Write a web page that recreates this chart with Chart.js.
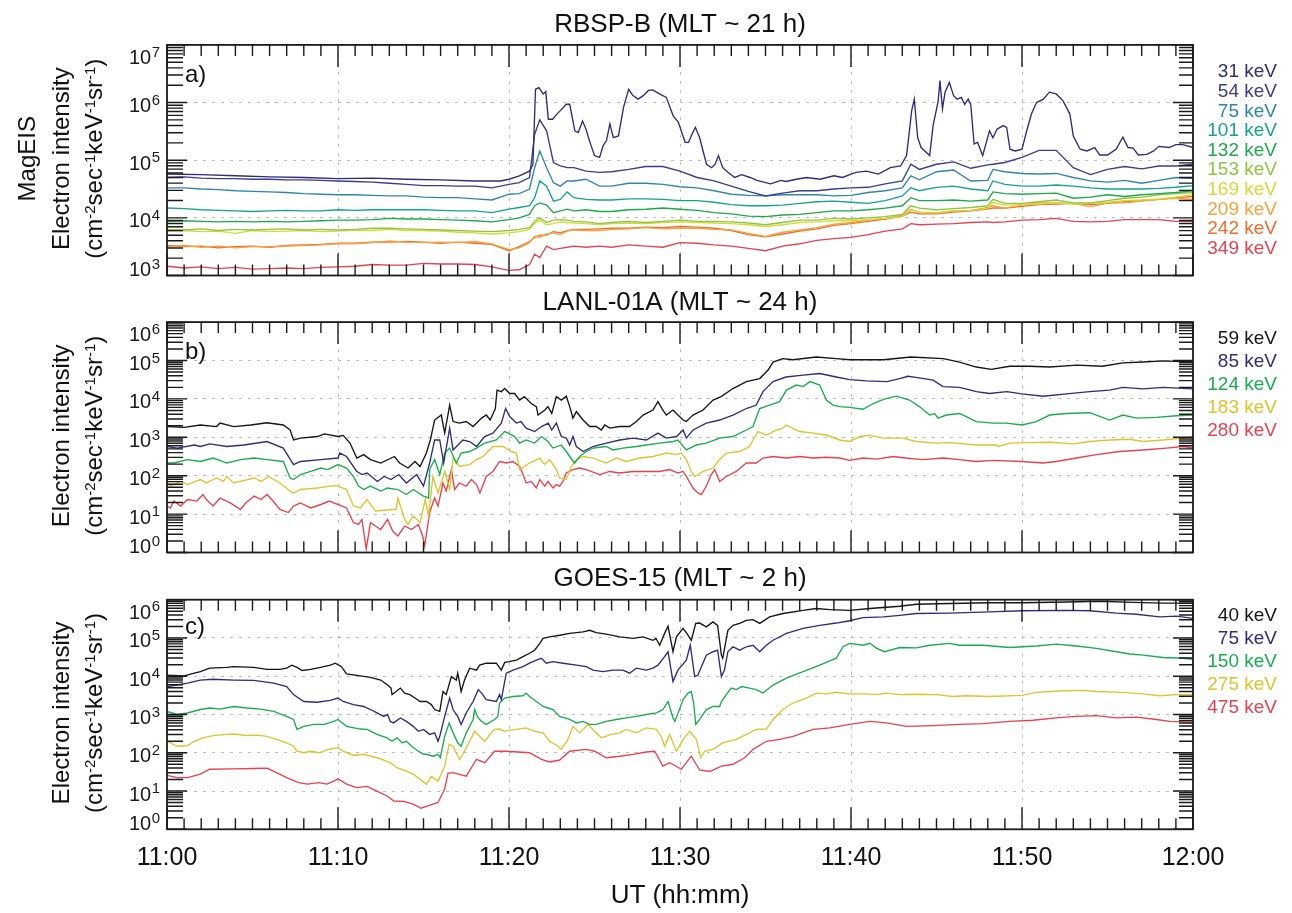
<!DOCTYPE html>
<html lang="en">
<head>
<meta charset="UTF-8">
<title>Electron intensity - RBSP-B, LANL-01A, GOES-15</title>
<script src="https://cdn.jsdelivr.net/npm/chart.js"></script>
<style>
  body { margin: 0; background: #fff; }
  #wrap { position: relative; width: 1292px; height: 913px; }
  #wrap canvas { position: absolute; left: 0; top: 0; }
</style>
</head>
<body>
<div id="wrap">
  <canvas id="panelA" width="1292" height="913"></canvas>
  <canvas id="panelB" width="1292" height="913"></canvas>
  <canvas id="panelC" width="1292" height="913"></canvas>
</div>
<script>
const FONT = "'Liberation Sans', Arial, Helvetica, sans-serif";
Chart.defaults.font.family = FONT;
Chart.defaults.color = '#111';

// x axis: minutes after 11:00 UT
const timeLabels = ['11:00', '11:10', '11:20', '11:30', '11:40', '11:50', '12:00'];

// values are log10 of electron intensity (cm^-2 s^-1 keV^-1 sr^-1)

// ---- a) RBSP-B MagEIS ----
const rbspLabels = ['31 keV', '54 keV', '75 keV', '101 keV', '132 keV', '153 keV', '169 keV', '209 keV', '242 keV', '349 keV'];
const rbspColors = ['#2f2b7c', '#3b3b92', '#2f86ad', '#13a58a', '#1ea84a', '#8dc63f', '#d6da34', '#f5a33a', '#ef6b2a', '#e8404f'];

const rbspTime = [0,1,2,3,4,5,6,7,8,9,10,11,12,13,14,15,16,17,18,19,
  20,20.6,21.2,21.5,21.8,22.2,22.6,23,23.4,23.8,
  24.5,25.3,26,27,28,29,30,31,32,33,34,35,36,37,38,39,40,41,42,43,
  43.5,44,45,46,47,48,48.3,49,50,51,52,53,54,55,56,57,58,59,60];

const rbsp31 = [[0,4.76],[2,4.75],[4,4.73],[6,4.71],[8,4.70],[10,4.68],[12,4.69],[14,4.67],[16,4.66],[18,4.64],[19.5,4.64],
  [20,4.67],[20.6,4.73],[21.2,4.81],[21.4,4.93],[21.55,6.23],[21.75,6.26],[22,6.15],[22.15,6.19],[22.3,5.71],[22.55,5.71],
  [22.8,5.80],[23,5.86],[23.35,5.97],[23.55,5.97],[23.85,5.51],[24.05,5.48],[24.3,5.68],[24.5,5.54],[24.7,5.34],[25,5.08],
  [25.3,5.05],[25.5,5.25],[25.7,5.34],[25.9,5.63],[26.1,5.39],[26.4,5.42],[26.7,5.92],[27,6.23],[27.25,6.12],[27.55,6.06],
  [27.85,6.12],[28.15,6.21],[28.4,6.22],[28.8,6.15],[29.2,6.09],[29.6,5.77],[29.9,5.66],[30.3,5.31],[30.5,5.31],[30.7,5.45],
  [30.9,5.57],[31.15,5.39],[31.55,4.93],[31.85,4.87],[32.05,4.93],[32.25,5.08],[32.5,4.87],[32.8,4.79],[33.2,4.70],[33.6,4.75],
  [34.1,4.70],[34.5,4.65],[35.3,4.59],[35.9,4.65],[36.2,4.63],[36.8,4.67],[37.4,4.70],[38.2,4.67],[39,4.73],[39.5,4.70],
  [40,4.76],[40.3,4.79],[40.9,4.81],[41.6,4.76],[42.3,4.87],[42.9,4.90],[43.25,5.08],[43.55,5.86],[43.7,6.06],[43.9,5.39],
  [44.1,5.22],[44.6,5.08],[44.8,5.60],[45.1,6.03],[45.2,6.38],[45.35,5.89],[45.5,6.18],[45.75,6.35],[46,6.12],[46.2,6.06],
  [46.45,6.09],[46.65,5.97],[46.85,6.06],[47,5.97],[47.2,5.28],[47.4,5.31],[47.7,5.08],[48.1,5.51],[48.3,5.39],[48.55,5.54],
  [48.9,5.60],[49.1,5.57],[49.3,5.19],[49.6,5.16],[50,5.19],[50.25,5.48],[50.55,5.80],[50.85,6.00],[51.25,6.06],[51.6,6.18],
  [52,6.15],[52.4,6.03],[52.8,5.80],[53,5.42],[53.4,5.19],[53.8,5.16],[54.25,5.22],[54.55,5.09],[55,5.09],[55.5,5.19],
  [55.9,5.40],[56.2,5.22],[56.5,5.21],[56.8,5.09],[57.3,5.10],[57.7,5.16],[58,5.24],[58.6,5.22],[59,5.27],[59.4,5.27],[60,5.22]];

const rbsp54 = [4.70,4.71,4.69,4.68,4.68,4.67,4.67,4.66,4.66,4.65,4.64,4.63,4.62,4.60,4.58,4.56,4.56,4.55,4.55,4.52,
  4.58,4.61,4.70,5.45,5.70,5.51,4.96,4.90,4.87,4.87,
  4.81,4.79,4.80,4.84,4.89,4.89,4.81,4.70,4.64,4.55,4.46,4.38,4.43,4.47,4.47,4.50,4.52,4.53,4.59,4.64,
  4.93,4.84,4.93,4.97,4.86,4.92,4.93,4.96,5.05,5.17,5.17,4.87,4.75,4.84,4.89,4.85,4.90,4.90,4.93];
const rbsp75 = [4.52,4.52,4.50,4.49,4.47,4.46,4.45,4.44,4.42,4.41,4.40,4.40,4.39,4.38,4.38,4.36,4.35,4.35,4.33,4.31,
  4.41,4.42,4.50,4.87,5.16,4.87,4.61,4.55,4.64,4.64,
  4.67,4.55,4.55,4.60,4.60,4.58,4.54,4.52,4.47,4.41,4.39,4.38,4.40,4.40,4.40,4.38,4.39,4.44,4.47,4.52,
  4.73,4.66,4.80,4.83,4.64,4.65,4.84,4.80,4.77,4.76,4.77,4.70,4.64,4.62,4.65,4.60,4.65,4.70,4.68];
const rbsp101 = [4.17,4.16,4.14,4.13,4.12,4.11,4.12,4.13,4.12,4.12,4.14,4.13,4.14,4.14,4.14,4.14,4.13,4.12,4.12,4.09,
  4.15,4.18,4.21,4.35,4.64,4.55,4.29,4.32,4.45,4.35,
  4.32,4.31,4.31,4.33,4.33,4.32,4.30,4.30,4.27,4.23,4.21,4.21,4.22,4.25,4.28,4.29,4.27,4.25,4.30,4.38,
  4.52,4.47,4.53,4.55,4.50,4.47,4.64,4.58,4.55,4.55,4.57,4.55,4.52,4.50,4.50,4.50,4.51,4.53,4.56];
const rbsp132 = [3.94,3.95,3.94,3.93,3.94,3.93,3.94,3.93,3.94,3.95,3.96,3.96,3.97,3.99,3.98,3.98,3.97,3.96,3.95,3.93,
  3.97,4.00,4.06,4.21,4.26,4.22,4.09,4.12,4.15,4.12,
  4.14,4.11,4.11,4.14,4.15,4.17,4.15,4.13,4.09,4.07,4.03,4.02,4.05,4.06,4.09,4.12,4.12,4.14,4.17,4.21,
  4.35,4.30,4.30,4.31,4.29,4.31,4.45,4.42,4.41,4.42,4.43,4.34,4.36,4.40,4.37,4.40,4.42,4.44,4.47];
const rbsp153 = [3.80,3.79,3.81,3.78,3.80,3.79,3.80,3.81,3.79,3.80,3.79,3.80,3.82,3.82,3.81,3.80,3.79,3.78,3.77,3.76,
  3.78,3.80,3.83,3.94,4.00,3.92,3.96,3.97,3.96,3.94,
  3.93,3.90,3.92,3.94,3.92,3.94,3.96,3.94,3.94,3.93,3.91,3.88,3.92,3.96,3.96,3.99,3.98,4.00,4.02,4.06,
  4.21,4.17,4.14,4.16,4.18,4.21,4.32,4.25,4.25,4.28,4.31,4.26,4.26,4.30,4.34,4.36,4.40,4.42,4.44];
const rbsp169 = [3.77,3.78,3.76,3.77,3.73,3.78,3.76,3.77,3.78,3.76,3.77,3.79,3.78,3.80,3.78,3.78,3.77,3.75,3.74,3.72,
  3.74,3.76,3.80,3.90,3.96,3.88,3.90,3.93,3.92,3.91,
  3.90,3.88,3.90,3.91,3.90,3.92,3.93,3.92,3.91,3.90,3.88,3.85,3.88,3.92,3.93,3.95,3.95,3.97,3.99,4.02,
  4.14,4.10,4.09,4.12,4.13,4.16,4.27,4.22,4.23,4.24,4.26,4.24,4.25,4.27,4.30,4.31,4.33,4.36,4.40];
const rbsp209 = [3.50,3.52,3.49,3.51,3.48,3.50,3.50,3.51,3.52,3.53,3.55,3.55,3.57,3.60,3.58,3.57,3.58,3.57,3.59,3.55,
  3.45,3.48,3.57,3.68,3.66,3.72,3.74,3.71,3.77,3.79,
  3.78,3.78,3.80,3.81,3.83,3.81,3.82,3.82,3.80,3.79,3.73,3.68,3.75,3.79,3.83,3.89,3.92,3.96,3.99,4.05,
  4.15,4.09,4.08,4.12,4.13,4.18,4.21,4.17,4.22,4.26,4.26,4.25,4.19,4.26,4.26,4.29,4.32,4.34,4.32];
const rbsp242 = [3.52,3.50,3.51,3.48,3.50,3.51,3.49,3.52,3.53,3.54,3.56,3.56,3.58,3.58,3.59,3.58,3.56,3.58,3.56,3.54,
  3.43,3.50,3.59,3.66,3.70,3.70,3.76,3.74,3.78,3.80,
  3.80,3.81,3.82,3.82,3.84,3.83,3.85,3.84,3.82,3.78,3.71,3.67,3.72,3.77,3.81,3.87,3.90,3.94,3.98,4.03,
  4.10,4.07,4.07,4.10,4.12,4.15,4.17,4.17,4.20,4.23,4.24,4.25,4.23,4.25,4.28,4.30,4.32,4.35,4.37];
const rbsp349 = [3.16,3.13,3.15,3.12,3.14,3.11,3.12,3.13,3.12,3.14,3.15,3.16,3.19,3.18,3.18,3.21,3.20,3.20,3.19,3.15,
  3.09,3.10,3.19,3.37,3.31,3.51,3.45,3.47,3.49,3.51,
  3.49,3.51,3.49,3.53,3.51,3.49,3.57,3.56,3.53,3.51,3.47,3.43,3.51,3.55,3.61,3.64,3.66,3.71,3.77,3.81,
  3.90,3.88,3.89,3.90,3.92,3.93,3.92,3.93,3.96,3.97,3.99,3.94,3.93,3.94,3.97,3.97,3.97,3.94,3.94];

// ---- b) LANL-01A ----
const lanlLabels = ['59 keV', '85 keV', '124 keV', '183 keV', '280 keV'];
const lanlColors = ['#151515', '#2e2c7e', '#17ad4d', '#dcc52a', '#e8404e'];

const lanl59 = [[0,3.28],[1,3.26],[1.95,3.32],[2.9,3.28],[3.1,3.37],[3.9,3.28],[4.9,3.32],[5.85,3.38],[6.8,3.32],[7.2,3.19],
  [7.4,2.93],[7.8,2.98],[8.8,3.02],[9.2,3.09],[10,3.02],[10.3,3.05],[10.7,2.85],[11.1,2.46],[11.5,2.55],[11.9,2.42],
  [12.5,2.33],[13.3,2.50],[13.6,2.33],[14.1,2.20],[14.5,2.37],[14.8,2.24],[15.17,2.59],[15.4,2.93],[15.65,3.45],[16.04,3.58],
  [16.24,3.11],[16.53,3.84],[16.73,3.41],[17.1,3.37],[17.5,3.41],[17.9,3.28],[18.4,3.50],[18.67,3.58],[18.9,3.45],[19.2,3.75],
  [19.3,4.23],[19.55,4.19],[19.75,4.27],[20.04,4.14],[20.33,4.14],[20.62,3.97],[20.9,4.06],[21.3,3.88],[21.6,3.80],[21.7,3.58],
  [22.1,3.71],[22.28,3.80],[22.5,3.62],[22.77,4.06],[23.06,3.97],[23.35,4.07],[23.55,3.80],[23.74,3.50],[23.94,3.67],[24.33,3.45],
  [24.72,3.28],[25.1,3.28],[25.4,3.19],[25.6,3.32],[25.89,3.24],[26.47,3.28],[27.05,3.28],[27.45,3.41],[27.84,3.58],[28.42,3.71],
  [28.71,3.93],[29,3.71],[29.2,3.58],[29.59,3.71],[29.88,3.58],[30.18,3.45],[30.37,3.41],[30.76,3.58],[31.35,3.71],[31.93,3.97],
  [32.4,4.06],[33.1,4.27],[33.88,4.45],[34.66,4.53],[35.15,4.75],[35.44,4.96],[36,5.05],[36.6,5.02],[37.97,5.09],[39.14,5.05],
  [39.92,5.02],[41.9,5.02],[43.5,5.09],[45.4,5.05],[46.35,4.96],[47.33,4.83],[48.2,4.77],[49.28,4.85],[50.45,4.85],[51.62,4.83],
  [53.2,4.88],[54.7,4.85],[55.9,4.94],[57.08,4.96],[58.25,4.99],[60,4.96]];
const lanl85 = [[0,2.76],[0.6,2.72],[1.6,2.80],[1.95,2.76],[2.5,2.83],[3.5,2.76],[4.5,2.80],[5.85,2.89],[6.8,2.72],[7.4,2.29],
  [7.8,2.37],[9,2.42],[10,2.46],[10.1,2.59],[10.5,2.50],[11.1,2.11],[11.4,2.03],[11.7,2.07],[12.3,1.85],[12.7,1.98],
  [13.1,1.90],[13.55,2.03],[14,1.81],[14.6,2.03],[15,1.73],[15.36,2.33],[15.65,2.93],[15.95,2.93],[16.18,2.33],[16.53,3.24],
  [16.73,2.67],[17.3,2.93],[17.7,2.89],[18.1,2.76],[18.58,3.02],[19.06,3.11],[19.55,3.37],[19.8,3.75],[20.04,3.54],[20.43,3.37],
  [20.7,3.41],[21,3.24],[21.5,3.15],[21.9,3.28],[22.3,3.37],[22.5,3.19],[22.77,3.37],[23.06,3.02],[23.35,2.98],[23.55,2.80],
  [23.74,3.02],[23.94,2.76],[24.33,2.63],[24.9,2.76],[25.7,2.85],[26.47,2.93],[27.25,2.98],[28.03,2.93],[28.71,3.11],[29.2,2.98],
  [29.8,3.02],[30.18,3.19],[30.37,2.98],[30.76,3.19],[31.54,3.37],[32.32,3.45],[33.1,3.58],[33.88,3.75],[34.46,3.84],[34.85,4.19],
  [35.44,4.45],[36.2,4.57],[37.2,4.62],[38.17,4.66],[39.14,4.57],[39.92,4.50],[40.9,4.47],[42.1,4.45],[42.85,4.53],[43.33,4.59],
  [43.8,4.56],[44.8,4.49],[45.38,4.32],[46.35,4.30],[47.33,4.19],[48.1,4.14],[49.1,4.19],[50,4.13],[51.23,4.07],[52.6,4.13],
  [53.96,4.19],[55.13,4.23],[55.9,4.30],[57.08,4.26],[58.25,4.30],[60,4.26]];
const lanl124 = [[0,2.33],[0.4,2.33],[1.2,2.42],[1.95,2.37],[2.7,2.46],[3.5,2.33],[4.3,2.42],[5.1,2.46],[5.85,2.42],[6.8,2.37],
  [7.2,1.94],[7.4,1.90],[7.8,2.03],[8.4,2.11],[9,2.20],[9.4,2.16],[10,2.29],[10.5,2.20],[10.9,1.98],[11.2,1.73],
  [11.5,1.64],[11.9,1.73],[12.5,1.60],[12.9,1.68],[13.5,1.64],[14,1.51],[14.4,1.64],[15,1.47],[15.3,1.42],[15.36,2.16],
  [15.65,2.42],[15.95,2.03],[16.24,2.59],[16.53,2.72],[16.92,2.33],[17.2,2.59],[17.7,2.63],[18.1,2.72],[18.58,2.85],[19.26,2.93],
  [19.75,3.15],[19.95,3.11],[20.33,3.02],[20.62,2.85],[21,2.93],[21.5,2.85],[21.9,3.02],[22.28,2.89],[22.57,2.72],[23.06,2.80],
  [23.35,2.63],[23.55,2.50],[23.84,2.33],[24.13,2.50],[24.52,2.63],[24.91,2.72],[25.69,2.76],[26.08,2.67],[26.66,2.72],[27.45,2.76],
  [28.03,2.80],[28.81,2.85],[29.59,2.89],[29.88,2.93],[30.37,2.67],[30.96,2.80],[31.54,2.85],[32.32,2.98],[33.1,3.02],[33.88,3.19],
  [34.27,3.28],[34.66,3.75],[35.24,3.84],[35.83,3.93],[36.22,4.23],[36.8,4.36],[37.2,4.32],[37.6,4.45],[38.17,4.36],[38.56,3.97],
  [38.95,3.84],[39.34,3.80],[39.92,3.78],[40.7,3.73],[41.3,3.88],[41.9,3.99],[42.65,4.07],[43.43,3.97],[44,3.80],[44.6,3.58],
  [44.9,3.62],[45.09,3.50],[45.57,3.58],[46.35,3.62],[46.74,3.54],[47.33,3.41],[48.3,3.37],[49.08,3.37],[50,3.32],[50.84,3.41],
  [51.62,3.58],[52.6,3.62],[53.96,3.64],[55.13,3.45],[55.9,3.58],[56.69,3.50],[57.86,3.52],[59.03,3.56],[60,3.58]];
const lanl183 = [[0,1.81],[0.2,1.73],[0.8,1.85],[1.2,1.77],[1.95,1.90],[2.3,1.81],[2.9,1.94],[3.3,1.85],[3.5,1.98],[3.9,1.81],
  [4.7,1.90],[5.1,1.94],[5.5,1.85],[5.95,1.98],[6.6,1.81],[7.2,1.60],[7.4,1.55],[7.8,1.64],[8.8,1.68],[9.75,1.74],
  [10,1.73],[10.5,1.64],[10.9,1.21],[11.3,1.16],[11.7,1.38],[12.2,1.08],[13.2,1.12],[13.4,1.12],[13.5,1.42],[13.9,0.86],
  [14.1,0.73],[14.4,0.95],[14.8,0.78],[15.1,1.38],[15.3,0.95],[15.55,1.98],[15.85,1.55],[16.24,2.11],[16.53,1.64],[16.73,2.46],
  [17.1,2.24],[17.7,2.29],[18.1,2.42],[18.48,2.50],[19.06,2.76],[19.65,2.76],[20.14,2.63],[20.43,2.59],[20.62,2.16],[21.2,2.33],
  [21.8,2.46],[22.08,2.29],[22.38,2.42],[22.77,2.16],[22.96,1.94],[23.35,1.90],[23.65,2.24],[23.94,2.42],[24.33,2.50],[24.91,2.46],
  [25.69,2.33],[26.28,2.46],[26.86,2.37],[27.64,2.46],[28.42,2.50],[29.2,2.59],[29.78,2.55],[30.08,2.59],[30.37,2.42],[30.66,2.11],
  [30.86,1.98],[31.35,2.11],[31.93,2.20],[32.32,2.42],[32.71,2.59],[33.49,2.63],[34.07,2.76],[34.27,2.93],[34.56,3.15],[35.05,3.06],
  [35.64,3.19],[36.02,3.24],[36.2,3.32],[37,3.15],[37.78,3.11],[38.56,3.06],[39.34,2.93],[39.92,2.89],[40.5,3.02],[41.1,3.05],
  [41.9,2.98],[43.04,2.98],[43.8,2.89],[44.99,2.85],[45.77,2.86],[47.33,2.80],[48.5,2.80],[48.6,2.76],[49.3,2.85],[50.45,2.86],
  [51.62,2.87],[52.98,2.83],[53.96,2.89],[55.13,2.93],[56.3,2.95],[57.08,2.89],[58.25,2.93],[59.42,2.98],[60,3.02]];
const lanl280 = [[0,1.21],[0.2,1.16],[0.4,1.34],[0.8,1.21],[1.2,1.38],[1.75,1.34],[2.1,1.51],[2.3,1.38],[2.7,1.21],[3.1,1.42],
  [3.7,1.29],[4.3,1.12],[4.6,1.29],[5.1,1.47],[5.5,1.38],[5.85,1.51],[6.2,1.34],[6.6,1.12],[7.1,1.04],[7.4,1.21],
  [7.8,1.29],[8.4,1.16],[9,1.25],[9.5,1.34],[9.75,1.29],[10,1.25],[10.5,1.16],[10.9,0.78],[11.2,0.73],[11.4,0.86],
  [11.65,0.09],[11.9,0.78],[12.5,0.60],[12.9,0.86],[13.2,0.56],[13.5,0.43],[13.9,0.69],[14.3,0.60],[14.7,0.73],[14.95,0.43],
  [15.07,0.17],[15.36,1.04],[15.65,1.42],[15.85,1.21],[16.14,1.81],[16.33,1.60],[16.63,2.16],[16.82,1.64],[17.1,1.81],[17.5,1.73],
  [17.8,1.90],[18.1,1.77],[18.3,1.55],[18.67,1.98],[19.06,2.11],[19.45,2.37],[19.84,2.33],[20.23,2.37],[20.62,2.24],[20.82,2.03],
  [21,1.81],[21.3,1.85],[21.6,1.68],[21.8,1.90],[22.1,1.73],[22.28,1.85],[22.57,1.68],[22.77,1.77],[22.96,1.73],[23.16,1.85],
  [23.35,2.07],[23.74,2.16],[24.13,2.20],[24.52,2.16],[25.3,2.03],[25.89,2.11],[26.47,2.07],[27.25,2.11],[28.03,2.11],[28.81,2.11],
  [29.39,2.16],[29.88,2.07],[30.18,2.11],[30.37,1.98],[30.76,1.68],[31.05,1.55],[31.25,1.51],[31.54,1.73],[31.83,2.03],[32.03,2.16],
  [32.32,1.85],[32.71,1.98],[33.29,2.11],[33.88,2.33],[34.46,2.33],[34.85,2.46],[35.44,2.50],[36.22,2.46],[37,2.50],[37.78,2.46],
  [38.56,2.48],[39.34,2.46],[39.92,2.40],[40.7,2.46],[41.5,2.43],[42.46,2.50],[43.2,2.46],[44.2,2.42],[45.4,2.46],[46.35,2.42],
  [47.3,2.37],[48.3,2.40],[50,2.37],[51.23,2.33],[52,2.37],[53.18,2.46],[54.35,2.55],[55.7,2.63],[57.08,2.67],[58.44,2.72],
  [59.42,2.76],[60,2.72]];

// ---- c) GOES-15 ----
const goesLabels = ['40 keV', '75 keV', '150 keV', '275 keV', '475 keV'];
const goesColors = ['#151515', '#2e2c7e', '#17ad4d', '#dcc52a', '#e8404e'];

const goes40 = [[0,4.03],[1,4.01],[1.6,4.08],[1.95,4.12],[2.5,4.21],[3.5,4.23],[3.9,4.25],[5.07,4.23],[5.85,4.18],[6.6,4.18],
  [7,4.21],[7.3,4.29],[7.6,4.23],[7.9,4.15],[8.4,4.18],[8.97,4.23],[9.55,4.29],[9.84,4.34],[10.2,4.25],[10.5,4.06],
  [11.3,4.01],[11.9,3.97],[12.5,3.90],[12.9,3.77],[13.1,3.69],[13.16,3.52],[13.4,3.60],[13.65,3.69],[13.9,3.56],[14.2,3.52],
  [14.5,3.43],[14.8,3.34],[15.17,3.34],[15.46,3.26],[15.65,3.13],[15.95,3.08],[16.14,3.60],[16.33,3.52],[16.63,3.99],[16.92,3.90],
  [17,4.08],[17.1,3.86],[17.2,3.60],[17.4,3.90],[17.7,4.21],[18.1,4.16],[18.28,4.29],[18.67,4.34],[19.26,4.34],[19.55,4.16],
  [19.75,4.36],[20,4.38],[20.43,4.42],[20.82,4.51],[21.2,4.60],[21.5,4.68],[21.8,4.86],[21.99,4.99],[22.38,5.03],[22.96,5.07],
  [23.55,5.12],[24.33,5.16],[24.72,5.20],[25.1,5.14],[25.69,5.10],[26.47,5.03],[27.25,4.99],[27.84,5.03],[28.42,4.94],[28.6,4.99],
  [28.81,4.81],[29.1,5.12],[29.3,5.31],[29.59,4.64],[29.79,5.03],[30.18,5.25],[30.4,5.12],[30.66,4.94],[30.92,5.38],[31.15,5.39],
  [31.54,5.29],[31.93,5.42],[32.2,5.33],[32.42,4.55],[32.5,4.47],[32.8,5.20],[33.1,5.33],[33.49,5.38],[33.88,5.46],[34.27,5.48],
  [34.66,5.38],[35.24,5.55],[36.02,5.64],[37.2,5.72],[37.97,5.77],[38.76,5.74],[39.92,5.72],[41.1,5.77],[42.85,5.83],[43.82,5.88],
  [45.77,5.90],[48.1,5.92],[50,5.92],[52.6,5.94],[54.54,5.96],[56.49,5.93],[58.25,5.91],[60,5.91]];
const goes75 = [[0,3.73],[0.6,3.77],[1.2,3.82],[1.95,3.90],[2.7,3.92],[3.9,3.90],[5.07,3.89],[6.24,3.82],[7,3.73],[7.4,3.52],
  [8,3.34],[8.77,3.32],[9.55,3.37],[10,3.43],[10.3,3.34],[10.9,3.26],[11.5,3.21],[11.9,3.13],[12.28,3.04],[12.67,2.95],
  [12.9,3.00],[13.06,2.82],[13.25,2.78],[13.65,2.91],[14,2.82],[14.4,2.69],[14.7,2.56],[15,2.61],[15.36,2.48],[15.65,2.52],
  [15.85,2.30],[15.95,2.43],[16.24,2.95],[16.53,3.43],[16.73,3.13],[17,2.95],[17.2,2.74],[17.5,3.04],[17.9,3.34],[18.2,3.65],
  [18.4,3.56],[18.67,3.39],[19.26,3.34],[19.45,3.52],[19.55,3.39],[19.84,4.08],[20.23,4.16],[20.82,4.25],[21.2,4.34],[21.6,4.42],
  [21.9,4.47],[22.18,4.34],[22.57,4.38],[23.16,4.34],[23.94,4.29],[24.52,4.25],[24.91,4.16],[25.5,4.12],[26.08,4.16],[26.67,4.16],
  [27.05,4.08],[27.45,4.21],[28.03,4.16],[28.42,4.21],[28.71,4.29],[29.1,4.51],[29.3,4.64],[29.59,3.86],[29.88,4.16],[30.37,4.42],
  [30.6,4.81],[30.86,3.99],[31.05,4.03],[31.25,4.25],[31.54,4.55],[31.93,4.64],[32.2,4.68],[32.42,3.99],[32.6,4.16],[32.8,4.64],
  [33.1,4.77],[33.49,4.68],[33.88,4.77],[34.27,4.81],[34.66,4.64],[35.05,4.81],[35.44,4.94],[36.22,5.12],[37.2,5.25],[38.17,5.33],
  [39.14,5.39],[39.92,5.45],[40.7,5.53],[41.9,5.55],[42.85,5.59],[43.82,5.64],[45.77,5.65],[48.1,5.68],[50,5.71],[52.6,5.72],
  [53.96,5.71],[55.52,5.65],[56.69,5.62],[58.05,5.55],[59.03,5.57],[60,5.51]];
const goes150 = [[0,3.08],[0.6,3.00],[1.2,3.04],[1.95,3.13],[2.5,3.17],[3.1,3.14],[3.9,3.21],[4.7,3.17],[5.46,3.14],[6.24,3.08],
  [7,2.95],[7.4,2.87],[7.6,2.61],[8,2.69],[8.58,2.74],[9.2,2.74],[9.75,2.82],[10,2.87],[10.5,2.69],[11.3,2.62],
  [11.7,2.61],[12.28,2.48],[12.87,2.39],[13.16,2.30],[13.45,2.39],[13.74,2.26],[14,2.30],[14.3,2.17],[14.7,2.04],[15,1.96],
  [15.17,1.96],[15.56,1.91],[15.85,1.96],[15.98,1.87],[16.24,2.43],[16.5,2.78],[16.73,2.52],[17,2.26],[17.2,2.17],[17.5,2.52],
  [17.9,2.87],[17.99,3.13],[18.2,2.91],[18.4,2.82],[18.67,2.74],[19.16,2.87],[19.35,2.95],[19.45,3.30],[19.75,3.43],[20.23,3.47],
  [20.82,3.49],[21,3.56],[21.2,3.47],[21.6,3.34],[21.99,3.21],[22.28,3.17],[22.57,3.13],[22.96,2.95],[23.55,2.87],[23.94,2.78],
  [24.33,2.82],[24.72,2.74],[25.1,2.74],[25.69,2.82],[26.28,2.87],[26.86,2.91],[27.45,2.95],[28.03,3.00],[28.62,3.04],[29,3.13],
  [29.3,3.34],[29.59,2.91],[29.7,2.82],[30.18,3.39],[30.47,3.56],[30.66,3.60],[30.8,3.30],[30.92,2.74],[31.15,2.87],[31.54,3.13],
  [31.93,3.21],[32.32,3.21],[32.42,3.34],[32.71,3.52],[33,3.69],[33.3,3.65],[33.6,3.73],[34.07,3.69],[34.46,3.65],[34.85,3.56],
  [35.44,3.77],[36.22,3.95],[37.2,4.12],[38.17,4.29],[39.14,4.47],[39.53,4.77],[39.92,4.86],[40.7,4.81],[41.1,4.86],[41.5,4.73],
  [41.97,4.64],[42.85,4.75],[43.82,4.74],[44.6,4.81],[45.77,4.86],[46.35,4.81],[47.72,4.81],[49.28,4.75],[50.84,4.79],[52,4.84],
  [53.18,4.79],[54.35,4.73],[55.52,4.64],[56.3,4.58],[57.08,4.55],[58.25,4.49],[59.42,4.47],[60,4.44]];
const goes275 = [[0,2.30],[0.6,2.17],[1.2,2.19],[1.6,2.30],[2.1,2.39],[2.7,2.45],[3.5,2.48],[3.9,2.49],[4.7,2.45],[5.26,2.46],
  [5.85,2.43],[6.4,2.35],[7,2.26],[7.4,2.17],[7.6,2.04],[8,2.00],[8.4,2.04],[8.87,2.00],[9.45,2.09],[10,2.13],
  [10.3,2.04],[10.9,1.93],[11.5,1.96],[12.28,1.87],[13.06,1.74],[13.45,1.61],[14,1.52],[14.4,1.44],[14.8,1.31],[15.17,1.18],
  [15.46,1.39],[15.85,1.26],[16.24,1.65],[16.5,2.22],[16.73,2.17],[17.1,1.83],[17.3,1.96],[17.99,2.56],[18.28,2.43],[18.58,2.30],
  [18.96,2.52],[19.16,2.61],[19.45,2.62],[19.75,2.56],[20.04,2.59],[20.43,2.61],[21,2.65],[21.5,2.56],[21.99,2.52],[22.38,2.30],
  [22.87,2.17],[23.06,2.09],[23.45,2.35],[23.74,2.69],[24.13,2.52],[24.62,2.74],[25,2.56],[25.4,2.39],[25.98,2.48],[26.47,2.52],
  [26.86,2.61],[27.45,2.52],[28.03,2.65],[28.62,2.61],[28.9,2.43],[29.1,2.17],[29.4,2.48],[29.79,2.04],[30.18,2.35],[30.57,2.56],
  [30.96,2.35],[31.2,1.87],[31.44,2.04],[31.93,2.09],[32.5,2.26],[33.29,2.35],[34.07,2.52],[34.46,2.61],[35.05,2.62],[35.44,2.87],
  [36.02,3.13],[36.6,3.30],[37.39,3.43],[37.97,3.56],[38.56,3.54],[39.14,3.58],[39.92,3.54],[40.7,3.54],[41.5,3.52],[42.07,3.56],
  [42.85,3.52],[43.82,3.53],[44.99,3.52],[45.96,3.47],[46.74,3.49],[48.1,3.47],[50,3.50],[50.84,3.58],[52.4,3.62],[53.57,3.63],
  [54.35,3.60],[55.9,3.58],[57.08,3.54],[58.05,3.49],[59.03,3.52],[60,3.52]];
const goes475 = [[0,1.41],[0.6,1.35],[1.2,1.35],[1.95,1.44],[2.5,1.57],[3.9,1.58],[5.07,1.59],[5.85,1.60],[6.4,1.48],[7,1.35],
  [7.7,1.22],[8.2,1.18],[8.87,1.22],[9.35,1.18],[9.75,1.26],[10,1.32],[10.5,1.18],[11.1,1.09],[11.7,1.12],[12.28,1.00],
  [12.87,0.87],[13.26,0.74],[13.84,0.73],[14.4,0.66],[14.85,0.55],[15.17,0.60],[15.56,0.66],[15.85,0.70],[16.24,1.05],[16.43,1.46],
  [16.73,1.48],[17.5,1.39],[18.1,1.83],[18.58,1.74],[19.16,2.04],[19.84,2.04],[21.2,2.00],[21.9,1.83],[22.38,1.76],[22.96,1.81],
  [23.55,2.04],[24.52,2.09],[25,2.04],[25.69,1.87],[26.47,1.91],[27.25,1.96],[28.03,2.02],[28.52,2.04],[29,1.65],[29.4,1.74],
  [30.08,1.57],[30.66,1.91],[31.15,1.55],[31.74,1.51],[32.42,1.65],[33.1,1.70],[33.78,1.87],[34.27,2.09],[35.05,2.30],[35.83,2.35],
  [36.61,2.43],[37.78,2.61],[38.76,2.65],[39.92,2.74],[41.1,2.82],[42.07,2.78],[43.24,2.69],[44.8,2.71],[46.35,2.74],[47.72,2.76],
  [49.28,2.82],[50.64,2.85],[52,2.91],[53.18,2.95],[54.35,2.97],[55.52,2.91],[56.69,2.93],[57.86,2.87],[58.64,2.82],[60,2.80]];

const unitParts = [['(cm'], ['-2', 1], ['sec'], ['-1', 1], ['keV'], ['-1', 1], ['sr'], ['-1', 1], [')']];

// ---------- helpers ----------
const fromShared = (times, logs) => times.map((t, i) => ({x: t, y: Math.pow(10, logs[i])}));
const fromPairs = pairs => pairs.map(([t, v]) => ({x: t, y: Math.pow(10, v)}));
const isDecade = v => Math.abs(Math.log10(v) - Math.round(Math.log10(v))) < 1e-6;
function logTicks(lo, hi) {
  const out = [];
  for (let e = lo; e < hi; e++) for (let m = 1; m <= 9; m++) out.push(m * Math.pow(10, e));
  out.push(Math.pow(10, hi));
  return out;
}
const minuteTicks = [];
for (let m = 0; m <= 60; m++) minuteTicks.push(m);

function drawRotated(ctx, parts, xBase, cy, size, supSize) {
  ctx.save();
  ctx.translate(xBase, cy);
  ctx.rotate(-Math.PI / 2);
  ctx.textAlign = 'left';
  ctx.textBaseline = 'alphabetic';
  let total = 0;
  parts.forEach(p => { ctx.font = `${p[1] ? supSize : size}px ${FONT}`; total += ctx.measureText(p[0]).width; });
  let u = -total / 2;
  parts.forEach(p => {
    ctx.font = `${p[1] ? supSize : size}px ${FONT}`;
    ctx.fillText(p[0], u, p[1] ? -7 : 0);
    u += ctx.measureText(p[0]).width;
  });
  ctx.restore();
}

// IDL-style frame: inward ticks on all sides, superscript labels, legend text
const idlFrame = {
  id: 'idlFrame',
  afterDraw(chart, args, o) {
    const {ctx, chartArea: a} = chart;
    const x = chart.scales.x, y = chart.scales.y;
    ctx.save();
    ctx.strokeStyle = '#1a1a1a';
    ctx.lineWidth = 1.4;
    ctx.beginPath();
    x.ticks.forEach(t => {
      const px = x.getPixelForValue(t.value);
      const len = t.value % 10 === 0 ? 22 : 11;
      ctx.moveTo(px, a.top); ctx.lineTo(px, a.top + len);
      ctx.moveTo(px, a.bottom); ctx.lineTo(px, a.bottom - len);
    });
    y.ticks.forEach(t => {
      const py = y.getPixelForValue(t.value);
      const major = isDecade(t.value);
      ctx.moveTo(a.left, py); ctx.lineTo(a.left + (major ? 20 : 16), py);
      ctx.moveTo(a.right, py); ctx.lineTo(a.right - (major ? 20 : 14), py);
    });
    ctx.stroke();
    ctx.lineWidth = 1.8;
    ctx.strokeRect(a.left, a.top, a.right - a.left, a.bottom - a.top);

    // y tick labels 10^n
    ctx.fillStyle = '#1a1a1a';
    ctx.textAlign = 'right';
    ctx.textBaseline = 'alphabetic';
    const labelRight = a.left - 7;
    for (let e = o.lo; e <= o.hi; e++) {
      const py = y.getPixelForValue(Math.pow(10, e));
      const base = Math.min(Math.max(py + 9.5, a.top + 19), a.bottom + 0.5);
      ctx.font = `15px ${FONT}`;
      const sup = String(e);
      const sw = ctx.measureText(sup).width;
      ctx.fillText(sup, labelRight, base - 7.3);
      ctx.font = `20px ${FONT}`;
      ctx.fillText('10', labelRight - sw - 0.5, base);
    }

    // panel letter
    ctx.textAlign = 'left';
    ctx.font = `24px ${FONT}`;
    ctx.fillStyle = '#111';
    ctx.fillText(o.letter, a.left + 18, a.top + o.letterY);

    // axis titles
    const cy = (a.top + a.bottom) / 2 - 1.5;
    if (o.instrument) drawRotated(ctx, [[o.instrument]], 35, cy, 24, 15);
    drawRotated(ctx, [['Electron intensity']], 68.5, cy, 24, 15);
    drawRotated(ctx, unitParts, 102, cy, 24, 15);

    // legend, right aligned
    ctx.textAlign = 'right';
    ctx.textBaseline = 'middle';
    ctx.font = `19px ${FONT}`;
    chart.data.datasets.forEach((ds, i) => {
      ctx.fillStyle = ds.borderColor;
      ctx.fillText(ds.label, 1277, a.top + o.legendTop + i * o.legendStep);
    });
    ctx.restore();
  }
};

function makePanel(id, p) {
  const gridGray = '#bdbdbd';
  return new Chart(document.getElementById(id), {
    type: 'line',
    data: {
      datasets: p.series.map(s => ({
        label: s.label, data: s.data, borderColor: s.color,
        borderWidth: 1.35, pointRadius: 0, tension: 0, fill: false
      }))
    },
    options: {
      responsive: false,
      animation: false,
      devicePixelRatio: 1,
      layout: { padding: { left: 0, right: 99, top: p.padTop, bottom: p.padBottom } },
      events: [],
      plugins: {
        legend: { display: false },
        tooltip: { enabled: false },
        title: {
          display: true, text: p.title, fullSize: false, color: '#111',
          font: { size: 26, weight: 'normal' }, padding: { top: 0, bottom: p.titleGap }
        },
        idlFrame: { lo: p.lo, hi: p.hi, letter: p.letter, letterY: p.letterY, instrument: p.instrument,
                    legendTop: p.legendTop, legendStep: p.legendStep }
      },
      scales: {
        x: {
          type: 'linear', min: 0, max: 60,
          afterBuildTicks: s => { s.ticks = minuteTicks.map(v => ({value: v})); },
          afterFit: s => { s.height = p.xHeight; },
          grid: {
            drawTicks: false, lineWidth: 1,
            color: c => (c.tick && c.tick.value % 10 === 0 && c.tick.value > 0 && c.tick.value < 60) ? gridGray : 'rgba(0,0,0,0)'
          },
          border: { display: false, dash: [3, 6] },
          ticks: {
            display: p.showTime, autoSkip: false, maxRotation: 0, padding: 14, color: '#111',
            font: { size: 25 },
            callback: v => (v % 10 === 0 ? timeLabels[v / 10] : '')
          },
          title: { display: p.showTime, text: 'UT (hh:mm)', color: '#111', font: { size: 26 }, padding: { top: 0, bottom: 2 } }
        },
        y: {
          type: 'logarithmic', min: Math.pow(10, p.lo), max: Math.pow(10, p.hi),
          afterBuildTicks: s => { s.ticks = logTicks(p.lo, p.hi).map(v => ({value: v})); },
          afterFit: s => { s.width = 167; },
          grid: {
            drawTicks: false, lineWidth: 1,
            color: c => (c.tick && isDecade(c.tick.value) && c.tick.value > Math.pow(10, p.lo) * 1.01 && c.tick.value < Math.pow(10, p.hi) * 0.99) ? gridGray : 'rgba(0,0,0,0)'
          },
          border: { display: false, dash: [3, 6] },
          ticks: { display: false }
        }
      }
    },
    plugins: [idlFrame]
  });
}

const rbspLogs = [null, rbsp54, rbsp75, rbsp101, rbsp132, rbsp153, rbsp169, rbsp209, rbsp242, rbsp349];
makePanel('panelA', {
  title: 'RBSP-B (MLT ~ 21 h)', letter: 'a)', letterY: 37, instrument: 'MagEIS',
  lo: 3, hi: 7, padTop: 9.2, titleGap: 4.5, padBottom: 637.5, xHeight: 0, showTime: false,
  legendTop: 27.2, legendStep: 19.6,
  series: rbspLabels.map((label, i) => ({
    label, color: rbspColors[i],
    data: i === 0 ? fromPairs(rbsp31) : fromShared(rbspTime, rbspLogs[i])
  }))
});

const lanlData = [lanl59, lanl85, lanl124, lanl183, lanl280];
makePanel('panelB', {
  title: 'LANL-01A (MLT ~ 24 h)', letter: 'b)', letterY: 36.5,
  lo: 0, hi: 6, padTop: 287.5, titleGap: 3.4, padBottom: 360.5, xHeight: 0, showTime: false,
  legendTop: 16.6, legendStep: 23.1,
  series: lanlLabels.map((label, i) => ({ label, color: lanlColors[i], data: fromPairs(lanlData[i]) }))
});

const goesData = [goes40, goes75, goes150, goes275, goes475];
makePanel('panelC', {
  title: 'GOES-15 (MLT ~ 2 h)', letter: 'c)', letterY: 34.5,
  lo: 0, hi: 6, padTop: 563, titleGap: 5.5, padBottom: 0, xHeight: 83.7, showTime: true,
  legendTop: 15.7, legendStep: 23.1,
  series: goesLabels.map((label, i) => ({ label, color: goesColors[i], data: fromPairs(goesData[i]) }))
});
</script>
</body>
</html>
